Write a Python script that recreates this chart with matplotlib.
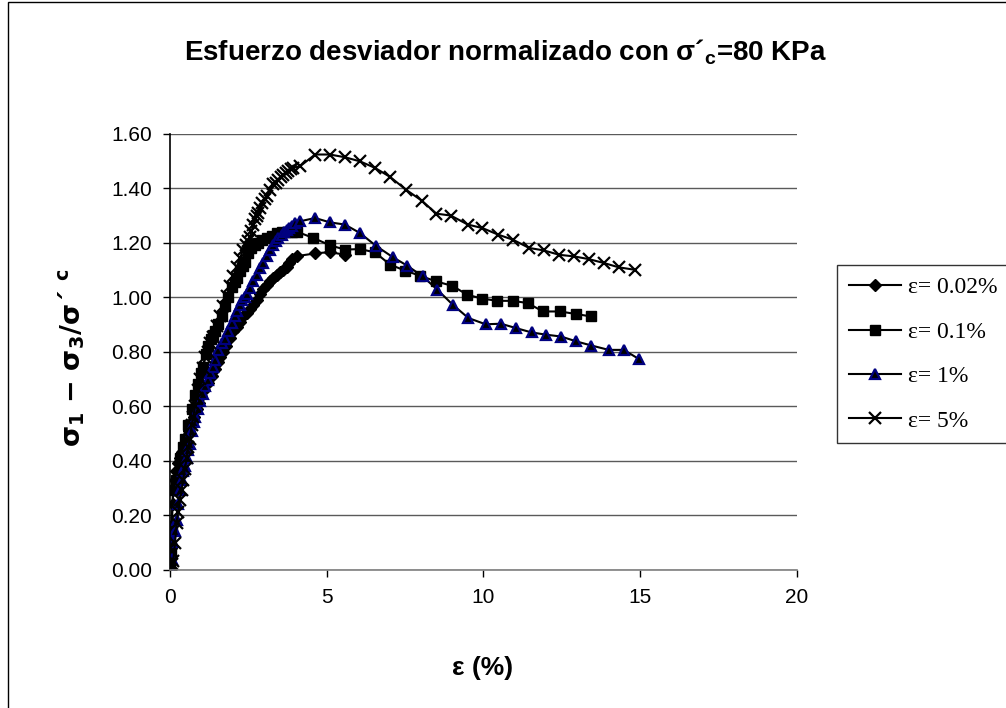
import matplotlib
matplotlib.use("Agg")
import matplotlib.pyplot as plt
from matplotlib.patches import Rectangle

# --- Data (strain %, normalised deviator stress) ---
x_002 = [0, 0.03, 0.05, 0.08, 0.1, 0.15, 0.2, 0.26, 0.32, 0.37, 0.45, 0.53, 0.6, 0.69, 0.77,
         0.85, 0.93, 1.0, 1.1, 1.22, 1.33, 1.44, 1.52, 1.59, 1.7, 1.8, 1.9, 2.01, 2.13, 2.23,
         2.34, 2.45, 2.55, 2.66, 2.76, 2.87, 2.98, 3.08, 3.19, 3.3, 3.4, 3.5, 3.62, 3.72, 3.8,
         3.9, 4.04, 4.63, 5.1, 5.58]
y_002 = [0, 0.08, 0.16, 0.24, 0.29, 0.33, 0.36, 0.39, 0.41, 0.43, 0.46, 0.49, 0.51, 0.54, 0.56,
         0.59, 0.61, 0.635, 0.66, 0.685, 0.71, 0.735, 0.76, 0.78, 0.80, 0.82, 0.85, 0.875, 0.89, 0.91,
         0.93, 0.94, 0.955, 0.97, 0.99, 1.01, 1.03, 1.045, 1.06, 1.07, 1.08, 1.09, 1.10, 1.11, 1.125,
         1.14, 1.15, 1.16, 1.165, 1.155]

x_01 = [0, 0.02, 0.05, 0.1, 0.2, 0.32, 0.4, 0.48, 0.58, 0.69, 0.8, 0.9, 1.0, 1.06, 1.15, 1.22,
        1.3, 1.38, 1.44, 1.54, 1.65, 1.75, 1.86, 1.97, 2.07, 2.13, 2.23, 2.32, 2.39, 2.5, 2.6,
        2.7, 2.82, 2.95, 3.08, 3.24, 3.4, 3.56, 3.72, 3.88, 4.04, 4.57, 5.1, 5.58, 6.06, 6.54,
        7.02, 7.5, 7.98, 8.5, 9.01, 9.49, 9.97, 10.45, 10.93, 11.41, 11.9, 12.44, 12.94, 13.42]
y_01 = [0, 0.06, 0.16, 0.29, 0.33, 0.41, 0.45, 0.48, 0.53, 0.59, 0.64, 0.68, 0.72, 0.745, 0.79, 0.82,
        0.845, 0.86, 0.875, 0.9, 0.93, 0.966, 1.0, 1.035, 1.055, 1.07, 1.095, 1.115, 1.13, 1.16, 1.18,
        1.19, 1.2, 1.21, 1.215, 1.225, 1.235, 1.24, 1.24, 1.24, 1.24, 1.217, 1.19, 1.174, 1.176, 1.164,
        1.119, 1.097, 1.078, 1.057, 1.041, 1.008, 0.994, 0.986, 0.986, 0.978, 0.947, 0.947, 0.938, 0.929]

x_1 = [0, 0.05, 0.1, 0.15, 0.21, 0.26, 0.32, 0.37, 0.43, 0.48, 0.53, 0.58, 0.64, 0.69, 0.75, 0.8,
       0.88, 0.96, 1.04, 1.12, 1.2, 1.28, 1.36, 1.44, 1.54, 1.65, 1.75, 1.86, 1.97, 2.07, 2.15,
       2.23, 2.3, 2.38, 2.45, 2.55, 2.66, 2.76, 2.87, 2.98, 3.08, 3.19, 3.3, 3.38, 3.46, 3.56,
       3.64, 3.72, 3.8, 3.88, 3.99, 4.15, 4.63, 5.1, 5.58, 6.06, 6.57, 7.1, 7.57, 8.06, 8.53,
       9.02, 9.52, 10.07, 10.56, 11.04, 11.54, 11.99, 12.48, 12.97, 13.45, 14.0, 14.48, 14.97]
y_1 = [0, 0.04, 0.10, 0.14, 0.18, 0.24, 0.29, 0.33, 0.36, 0.38, 0.41, 0.44, 0.46, 0.51, 0.54, 0.56,
       0.59, 0.62, 0.645, 0.672, 0.695, 0.72, 0.745, 0.77, 0.806, 0.83, 0.845, 0.874, 0.905, 0.93, 0.95,
       0.97, 0.99, 1.0, 1.01, 1.033, 1.057, 1.082, 1.107, 1.125, 1.149, 1.174, 1.19, 1.205, 1.217, 1.229,
       1.24, 1.247, 1.255, 1.262, 1.272, 1.278, 1.29, 1.274, 1.266, 1.235, 1.188, 1.147, 1.115, 1.076, 1.027,
       0.972, 0.923, 0.9, 0.902, 0.886, 0.87, 0.862, 0.855, 0.837, 0.822, 0.806, 0.806, 0.772]

x_5 = [0, 0.05, 0.1, 0.16, 0.21, 0.26, 0.32, 0.37, 0.42, 0.48, 0.53, 0.58, 0.64, 0.69, 0.74, 0.8,
       0.85, 0.9, 0.96, 1.04, 1.12, 1.2, 1.28, 1.38, 1.49, 1.59, 1.7, 1.81, 1.91, 2.02, 2.13, 2.23,
       2.34, 2.42, 2.5, 2.55, 2.6, 2.66, 2.71, 2.76, 2.82, 2.87, 2.92, 3.03, 3.08, 3.19, 3.3, 3.38,
       3.46, 3.54, 3.62, 3.7, 3.78, 3.85, 3.93, 4.15, 4.63, 5.1, 5.58, 6.06, 6.54, 7.02, 7.53, 8.03,
       8.5, 8.96, 9.5, 9.97, 10.47, 10.95, 11.46, 11.93, 12.42, 12.9, 13.37, 13.84, 14.32, 14.83]
y_5 = [0, 0.02, 0.03, 0.096, 0.17, 0.21, 0.255, 0.29, 0.33, 0.37, 0.41, 0.45, 0.48, 0.53, 0.56, 0.6,
       0.63, 0.66, 0.7, 0.74, 0.78, 0.8, 0.83, 0.855, 0.892, 0.929, 0.966, 1.002, 1.039, 1.076, 1.112, 1.143,
       1.174, 1.19, 1.204, 1.22, 1.241, 1.266, 1.285, 1.296, 1.31, 1.327, 1.345, 1.36, 1.37, 1.394, 1.413, 1.42,
       1.431, 1.44, 1.446, 1.455, 1.461, 1.468, 1.474, 1.48, 1.523, 1.523, 1.513, 1.498, 1.474, 1.441, 1.394, 1.354,
       1.306, 1.299, 1.266, 1.253, 1.229, 1.21, 1.18, 1.171, 1.155, 1.149, 1.139, 1.125, 1.109, 1.100]

labels = ["ε= 0.02%", "ε= 0.1%", "ε= 1%", "ε= 5%"]
y_ticks = [0.0, 0.2, 0.4, 0.6, 0.8, 1.0, 1.2, 1.4, 1.6]
x_ticks = [0, 5, 10, 15, 20]

NAVY = "#000080"

fig = plt.figure(figsize=(10.06, 7.08), dpi=100)
ax = fig.add_axes([0.169, 0.1956, 0.623, 0.6158])

# chart area border (runs off the right/bottom edge like the original)
fig.patches.append(Rectangle((8 / 1006, -0.1), 1.2, 1.1 - 1.5 / 708, transform=fig.transFigure,
                             fill=False, edgecolor="black", linewidth=1.0, zorder=0))

ax.plot(x_002, y_002, color="black", lw=1.5, marker="D", ms=6, mfc="black", mec="black", label=labels[0])
ax.plot(x_01, y_01, color="black", lw=1.5, marker="s", ms=6.5, mfc="black", mec="black", label=labels[1])
ax.plot(x_1, y_1, color="black", lw=1.5, marker="^", ms=7.5, mfc="black", mec=NAVY, mew=1.6, label=labels[2])
ax.plot(x_5, y_5, color="black", lw=1.5, marker="x", ms=9, mew=1.6, mec="black", label=labels[3])

ax.set_xlim(0, 20)
ax.set_ylim(0, 1.6)
ax.set_xticks(x_ticks)
ax.set_yticks(y_ticks)
ax.set_yticklabels([f"{v:.2f}" for v in y_ticks])
ax.tick_params(direction="out", length=5, width=1, labelsize=15, pad=8)
for lab in ax.get_xticklabels() + ax.get_yticklabels():
    lab.set_family("Liberation Sans")

ax.yaxis.grid(True, color="#5a5a5a", lw=1.0)
ax.set_axisbelow(True)
for s in ["top", "right"]:
    ax.spines[s].set_visible(False)
ax.spines["left"].set_linewidth(1.2)
ax.spines["bottom"].set_color("#7f7f7f")
ax.spines["bottom"].set_linewidth(1.2)

fig.text(0.502, 1 - 52 / 708, "Esfuerzo desviador normalizado con σ´$_\\mathregular{c}$=80 KPa",
         ha="center", va="center", fontsize=20, fontweight="bold", family="Liberation Sans")
fig.text(72 / 1006, 1 - 358 / 708,
         "σ$_\\mathregular{1}$ − σ$_\\mathregular{3}$/σ´ $^\\mathregular{c}$",
         rotation=90, ha="center", va="center",
         fontsize=19.5, fontweight="bold", family="DejaVu Sans")
fig.text(483 / 1006, 1 - 668 / 708, "ε (%)", ha="center", va="center",
         fontsize=19, fontweight="bold", family="Liberation Sans")

leg = fig.legend(loc="upper left", bbox_to_anchor=(837 / 1006, 1 - 265 / 708),
                 prop={"family": "Liberation Serif", "size": 17}, frameon=True, fancybox=False,
                 handlelength=2.2, labelspacing=0.97, borderpad=0.5, handletextpad=0.3,
                 borderaxespad=0)
leg.get_frame().set_edgecolor("black")
leg.get_frame().set_linewidth(1.0)

fig.savefig("out.png", dpi=100)
